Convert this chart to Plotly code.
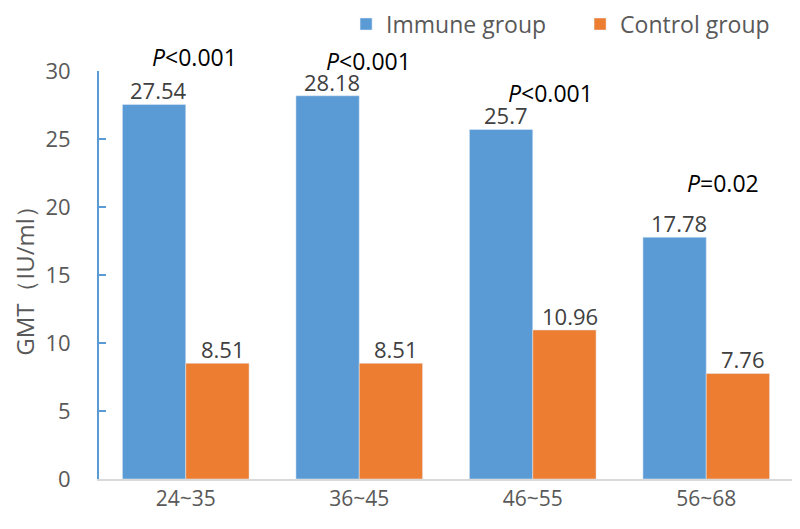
import plotly.graph_objects as go

# age groups and GMT values (IU/ml)
age_groups = ["24~35", "36~45", "46~55", "56~68"]
immune_gmt = [27.54, 28.18, 25.7, 17.78]
control_gmt = [8.51, 8.51, 10.96, 7.76]
p_labels = ["<i>P</i><0.001", "<i>P</i><0.001", "<i>P</i><0.001", "<i>P</i>=0.02"]
p_heights = [31.0, 30.7, 28.4, 21.8]

Y_MAX = 30
FONT = "Open Sans"
TEXT_GREY = "#595959"
BAR_OFFSET = 32  # px from group centre to each bar centre

fig = go.Figure()
fig.add_trace(go.Bar(x=age_groups, y=immune_gmt, name="Immune group",
                     marker_color="#5B9BD5"))
fig.add_trace(go.Bar(x=age_groups, y=control_gmt, name="Control group",
                     marker_color="#ED7D31"))

# value labels sitting right on top of each bar (tighter than textposition="outside")
for vals, dx in [(immune_gmt, -BAR_OFFSET), (control_gmt, BAR_OFFSET)]:
    for g, v in zip(age_groups, vals):
        fig.add_annotation(x=g, y=v, text=str(v), showarrow=False,
                           xshift=dx + 5, yanchor="bottom", yshift=-3,
                           font=dict(size=22, color="#404040", family=FONT))

# P values sit above the groups; paper coords so the ones above 30 still show
shifts = [9, 9, 18, 17]
for g, lab, h, s in zip(age_groups, p_labels, p_heights, shifts):
    fig.add_annotation(x=g, y=h / Y_MAX, yref="paper", yanchor="middle",
                       text=lab, showarrow=False, xshift=s,
                       font=dict(size=23, color="#000000", family=FONT))

# page body has an 8px margin, so the figure is a bit smaller than the window
fig.update_layout(
    width=792, height=521,
    margin=dict(l=91, r=7, t=63, b=50, autoexpand=False),
    paper_bgcolor="white", plot_bgcolor="white",
    barmode="group", bargap=0.27, bargroupgap=0,
    font=dict(family=FONT, size=20, color=TEXT_GREY),
    showlegend=True,
    legend=dict(orientation="h", x=0.356, xanchor="left", y=1.115, yanchor="middle",
                font=dict(size=23, color=TEXT_GREY), itemwidth=30,
                entrywidth=189, entrywidthmode="pixels",
                traceorder="normal"),
)
fig.update_xaxes(showline=True, linecolor="#D9D9D9", linewidth=1.5,
                 ticks="", tickfont=dict(size=21, color=TEXT_GREY))
fig.update_yaxes(range=[0, Y_MAX], dtick=5, showgrid=False, zeroline=False,
                 showline=True, linecolor="#5B9BD5", linewidth=2,
                 ticks="inside", ticklen=7, tickcolor="#5B9BD5", tickwidth=2,
                 ticklabelstandoff=22,
                 tickfont=dict(size=22, color=TEXT_GREY),
                 title=dict(text="GMT（IU/ml）",
                            font=dict(size=24, color=TEXT_GREY, family=FONT),
                            standoff=16))

fig.write_html("out.html")
